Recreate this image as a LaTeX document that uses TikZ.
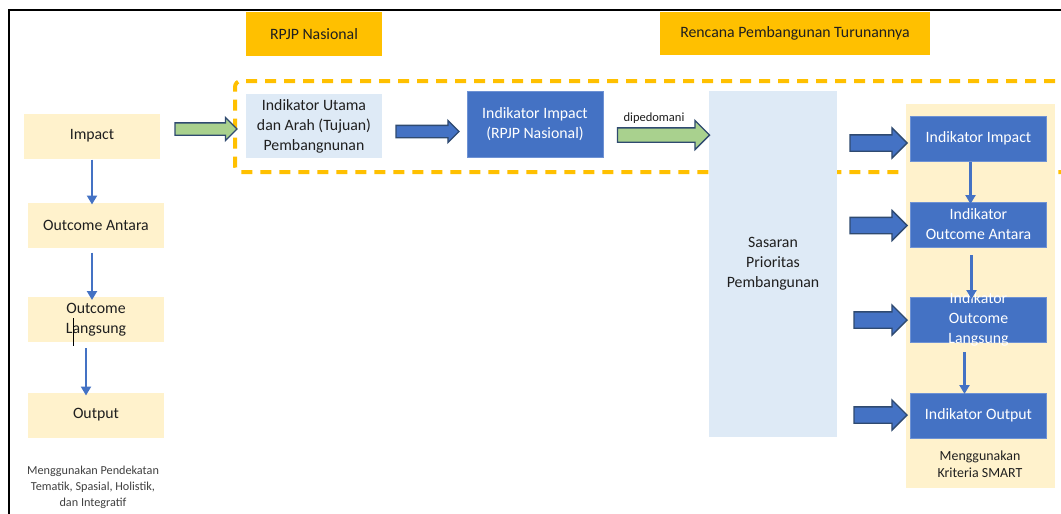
\documentclass[tikz,border=0pt]{standalone}
\usepackage{fontspec}
\setmainfont{Carlito}
\usetikzlibrary{arrows.meta,positioning,shapes.arrows}
\definecolor{gold}{HTML}{FFC000}
\definecolor{cream}{HTML}{FFF2CC}
\definecolor{pale}{HTML}{DEEAF6}
\definecolor{royal}{HTML}{4472C4}
\definecolor{royaledge}{HTML}{6E92D4}
\definecolor{leaf}{HTML}{A9D18E}
\definecolor{navy}{HTML}{2F4A70}
\definecolor{ink}{HTML}{1F1F1F}
\definecolor{inkgray}{HTML}{404040}
\tikzset{
  goldbox/.style={
    fill=gold, text=ink, inner sep=0pt, outer sep=0pt,
    font=\fontsize{15.8}{20}\selectfont
  },
  creambox/.style={
    fill=cream, text=ink, inner sep=0pt, outer sep=0pt,
    minimum width=136pt, minimum height=45pt, align=center,
    font=\fontsize{15.8}{20}\selectfont
  },
  palebox/.style={
    fill=pale, text=ink, inner sep=0pt, outer sep=0pt, align=center,
    font=\fontsize{15.8}{20}\selectfont
  },
  bluebox/.style={
    draw=royaledge, fill=royal, line width=0.8pt, text=white,
    inner sep=0pt, outer sep=0pt, align=center,
    minimum width=136pt, minimum height=45pt,
    font=\fontsize{15.8}{20}\selectfont
  },
  notetext/.style={align=center, text=inkgray, inner sep=0pt},
  thinarrow/.style={
    draw=royal, line width=2.4pt,
    -{Triangle[width=10pt,length=9pt]}
  },
  fatarrow/.style={
    single arrow, draw=navy, line width=1.3pt,
    inner xsep=0pt, outer sep=0pt, single arrow tip angle=90
  },
  greenarrow/.style={fatarrow, fill=leaf},
  bluearrow/.style={fatarrow, fill=royal}
}
\begin{document}
\begin{tikzpicture}[x=1pt,y=-1pt]
  \clip (0,0) rectangle (1061,514);
  \fill[white] (0,0) rectangle (1061,514);
  \draw[line width=1.5pt] (9,514) -- (9,10) -- (1061,10);

  \node[draw=gold, line width=4pt, dash pattern=on 11pt off 8pt,
        rounded corners=6pt, minimum width=845pt, minimum height=91pt,
        inner sep=0pt] (rpjpframe) at (657.5,126.5) {};

  \node[goldbox, minimum width=136pt, minimum height=44pt] (rpjp) at (314,34) {RPJP Nasional};
  \node[goldbox, minimum width=270pt, minimum height=43pt] (rencana) at (795,33.5) {Rencana Pembangunan Turunannya};

  \node[creambox] (impact) at (92,136) {Impact};
  \node[creambox] (oantara) at (96,225) {Outcome Antara};
  \node[creambox] (olangsung) at (96,319.5) {Outcome\\Langsung};
  \node[creambox] (output) at (96,415) {Output};
  \draw[line width=1pt] (73,318) -- (73,346);
  \node[notetext, font=\fontsize{12.2}{16}\selectfont] (pendekatan) at (93,487)
    {Menggunakan Pendekatan\\Tematik, Spasial, Holistik,\\dan Integratif};

  \draw[thinarrow] ([yshift=-1pt]impact.south) -- ([xshift=-4pt,yshift=-2pt]oantara.north);
  \draw[thinarrow] ([xshift=-4pt,yshift=-5pt]oantara.south) -- ([xshift=-4pt,yshift=-3pt]olangsung.north);
  \draw[thinarrow] ([xshift=-10pt,yshift=-6pt]olangsung.south) -- ([xshift=-10pt,yshift=-3pt]output.north);

  \node[palebox, minimum width=136pt, minimum height=64pt] (utama) at (314,126)
    {Indikator Utama\\dan Arah (Tujuan)\\Pembangnunan};
  \node[bluebox, minimum height=66pt] (iimpact) at (535,124)
    {Indikator Impact\\(RPJP Nasional)};
  \node[palebox, minimum width=128pt, minimum height=346pt] (sasaran) at (773,264)
    {Sasaran\\Prioritas\\Pembangunan};

  \node[greenarrow, minimum height=62pt, inner ysep=5.5pt,
        single arrow head extend=5.5pt] (arutama) at (203,129) {};
  \node[bluearrow, minimum height=63pt, inner ysep=5.5pt,
        single arrow head extend=5pt] (arimpact) at (424.5,131.5) {};
  \node[greenarrow, minimum height=92pt, inner ysep=6.5pt,
        single arrow head extend=7.5pt] (arsasaran) at (660,135) {};
  \node[inner sep=0pt, text=ink, font=\fontsize{12.5}{15}\selectfont]
    (dipedomani) at (654,118) {dipedomani};

  \node[fill=cream, inner sep=0pt, minimum width=149pt, minimum height=384pt] (smartpanel) at (980.5,296) {};
  \node[bluebox] (rimpact) at (978.5,138.5) {Indikator Impact};
  \node[bluebox] (rantara) at (978.5,224.5) {Indikator\\Outcome Antara};
  \node[bluebox] (rlangsung) at (978.5,319.5) {};
  \node[text=white, align=center, inner sep=0pt, font=\fontsize{15.8}{20}\selectfont]
    (rlangsungtext) at (rlangsung) {Indikator\\Outcome\\Langsung};
  \node[bluebox] (routput) at (978.5,415.5) {Indikator Output};
  \node[notetext, text=ink, font=\fontsize{13.9}{17}\selectfont] (smart) at (980,464.5)
    {Menggunakan\\Kriteria SMART};

  \draw[thinarrow] ([xshift=-8pt,yshift=-1pt]rimpact.south) -- ([xshift=-8pt,yshift=-2pt]rantara.north);
  \draw[thinarrow] ([xshift=-7pt,yshift=-8pt]rantara.south) -- ([xshift=-7pt,yshift=-2pt]rlangsung.north);
  \draw[thinarrow] ([xshift=-14pt,yshift=-10pt]rlangsung.south) -- ([xshift=-14pt,yshift=-1pt]routput.north);

  \foreach \ypos/\xpos/\len/\name in {143/874.5/57/arr1, 225.5/874.5/57/arr2, 320/876.5/53/arr3, 415/876.5/53/arr4}
    \node[bluearrow, minimum height=\len pt, inner ysep=7.5pt,
          single arrow head extend=7pt] (\name) at (\xpos,\ypos) {};
\end{tikzpicture}
\end{document}
